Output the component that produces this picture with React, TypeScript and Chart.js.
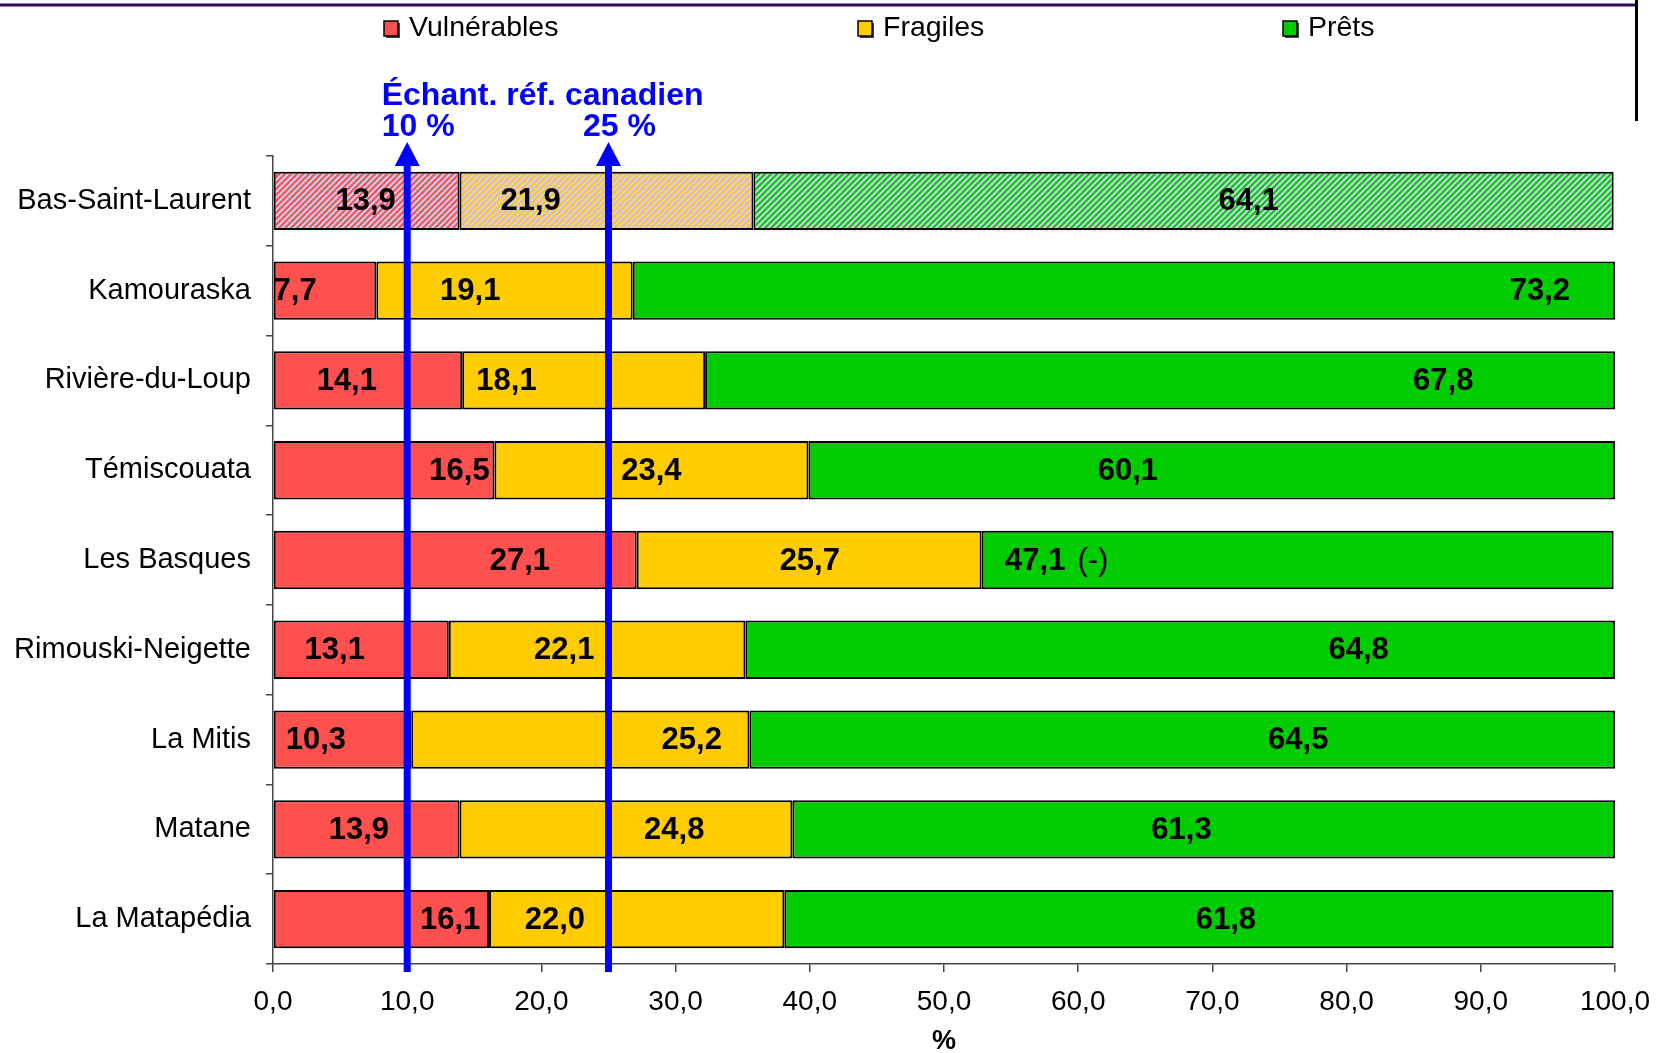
import React, { useEffect, useRef } from 'react';
import { Chart, registerables } from 'chart.js';

Chart.register(...registerables);

// ---------- data ----------
const categories = [
  'Bas-Saint-Laurent',
  'Kamouraska',
  'Rivière-du-Loup',
  'Témiscouata',
  'Les Basques',
  'Rimouski-Neigette',
  'La Mitis',
  'Matane',
  'La Matapédia',
];
const seriesNames = ['Vulnérables', 'Fragiles', 'Prêts'];
const vulnerables = [13.9, 7.7, 14.1, 16.5, 27.1, 13.1, 10.3, 13.9, 16.1];
const fragiles = [21.9, 19.1, 18.1, 23.4, 25.7, 22.1, 25.2, 24.8, 22.0];
const prets = [64.1, 73.2, 67.8, 60.1, 47.1, 64.8, 64.5, 61.3, 61.8];
const pretsNotes = ['', '', '', '', '(-)', '', '', '', ''];
const xTickLabels = ['0,0', '10,0', '20,0', '30,0', '40,0', '50,0', '60,0', '70,0', '80,0', '90,0', '100,0'];
const xAxisTitle = '%';
const referenceTitle = 'Échant. réf. canadien';
const referenceValues = [10, 25];
const referenceLabels = ['10 %', '25 %'];
// where each value label sits along the axis (in % units), as placed in the original
const vulnLabelAt = [6.9, 1.65, 5.5, 13.9, 18.4, 4.6, 3.2, 6.4, 13.2];
const fragLabelAt = [19.2, 14.7, 17.4, 28.2, 40.0, 21.7, 31.2, 29.9, 21.0];
const pretLabelAt = [72.7, 94.4, 87.2, 63.7, 56.8, 80.9, 76.4, 67.7, 71.0];

// ---------- styles ----------
const RED = '#FF5050';
const YELLOW = '#FFCC00';
const GREEN = '#00CC00';
const BLUE = '#0000FF';
const FONT = '"Liberation Sans", Arial, sans-serif';

function fmt(v: number) {
  return v.toFixed(1).replace('.', ',');
}

function makeHatch(color: string): CanvasPattern | string {
  const c = document.createElement('canvas');
  c.width = 6;
  c.height = 6;
  const g = c.getContext('2d');
  if (!g) return color;
  g.fillStyle = color;
  g.fillRect(0, 0, 6, 6);
  g.strokeStyle = '#CFCFF6';
  g.lineWidth = 2;
  for (const k of [0, 6, 12]) {
    g.beginPath();
    g.moveTo(-2, k + 2);
    g.lineTo(k + 2, -2);
    g.stroke();
  }
  const p = g.createPattern(c, 'repeat');
  return p || color;
}

export default function App() {
  const ref = useRef<HTMLCanvasElement | null>(null);

  useEffect(() => {
    const canvas = ref.current;
    if (!canvas) return;
    const colors = [RED, YELLOW, GREEN];
    const values = [vulnerables, fragiles, prets];
    const labelAt = [vulnLabelAt, fragLabelAt, pretLabelAt];

    const datasets = values.map((vals, i) => ({
      label: seriesNames[i],
      data: vals,
      backgroundColor: vals.map((_, j) => (j === 0 ? makeHatch(colors[i]) : colors[i])),
      borderColor: '#000000',
      borderWidth: 2,
      borderSkipped: false,
      barPercentage: 0.65,
      categoryPercentage: 1,
    }));

    const labelsPlugin = {
      id: 'valueLabels',
      afterDatasetsDraw(chart: any) {
        const ctx = chart.ctx;
        const xs = chart.scales.x;
        ctx.save();
        ctx.fillStyle = '#000';
        ctx.textBaseline = 'middle';
        values.forEach((vals, i) => {
          const meta = chart.getDatasetMeta(i);
          vals.forEach((v, j) => {
            const el = meta.data[j];
            const x = xs.getPixelForValue(labelAt[i][j]);
            const y = el.y + 1;
            ctx.font = `bold 31px ${FONT}`;
            ctx.textAlign = 'center';
            const text = fmt(v);
            ctx.fillText(text, x, y);
            if (i === 2 && pretsNotes[j]) {
              const w = ctx.measureText(text).width;
              ctx.font = `31px ${FONT}`;
              ctx.textAlign = 'left';
              ctx.fillText(pretsNotes[j], x + w / 2 + 12, y);
            }
          });
        });
        ctx.restore();
      },
    };

    const decorPlugin = {
      id: 'decor',
      afterDraw(chart: any) {
        const ctx = chart.ctx;
        const xs = chart.scales.x;
        const area = chart.chartArea;
        ctx.save();

        // frame lines at top
        ctx.strokeStyle = '#2A0C55';
        ctx.lineWidth = 3;
        ctx.beginPath();
        ctx.moveTo(0, 5);
        ctx.lineTo(1637, 5);
        ctx.stroke();
        ctx.strokeStyle = '#000';
        ctx.lineWidth = 3;
        ctx.beginPath();
        ctx.moveTo(1636.5, 0);
        ctx.lineTo(1636.5, 121);
        ctx.stroke();

        // legend
        const legendX = [384, 858, 1283];
        const colors = [RED, YELLOW, GREEN];
        ctx.font = `28.5px ${FONT}`;
        ctx.textBaseline = 'middle';
        ctx.textAlign = 'left';
        seriesNames.forEach((name, i) => {
          const x = legendX[i];
          ctx.fillStyle = '#404040';
          ctx.fillRect(x + 2, 23, 14, 15);
          ctx.fillStyle = colors[i];
          ctx.fillRect(x, 21, 14, 15);
          ctx.strokeStyle = '#000';
          ctx.lineWidth = 1.5;
          ctx.strokeRect(x, 21, 14, 15);
          ctx.fillStyle = '#000';
          ctx.fillText(name, x + 25, 28);
        });

        // reference arrows
        ctx.fillStyle = BLUE;
        ctx.strokeStyle = BLUE;
        referenceValues.forEach((v) => {
          const x = xs.getPixelForValue(v);
          ctx.lineWidth = 7;
          ctx.beginPath();
          ctx.moveTo(x, 160);
          ctx.lineTo(x, area.bottom + 8);
          ctx.stroke();
          ctx.beginPath();
          ctx.moveTo(x, 142);
          ctx.lineTo(x + 12.5, 166);
          ctx.lineTo(x - 12.5, 166);
          ctx.closePath();
          ctx.fill();
        });

        // reference text
        ctx.font = `bold 32px ${FONT}`;
        ctx.textBaseline = 'middle';
        ctx.textAlign = 'center';
        referenceLabels.forEach((t, i) => {
          const x = xs.getPixelForValue(referenceValues[i]) + 11;
          ctx.fillText(t, x, 127);
        });
        ctx.textAlign = 'left';
        const firstW = ctx.measureText(referenceLabels[0]).width;
        ctx.fillText(referenceTitle, xs.getPixelForValue(referenceValues[0]) + 11 - firstW / 2, 96);

        ctx.restore();
      },
    };

    const chart = new Chart(canvas, {
      type: 'bar',
      data: { labels: categories, datasets: datasets as any },
      options: {
        indexAxis: 'y',
        responsive: false,
        animation: false,
        devicePixelRatio: 1,
        layout: { padding: { top: 156, right: 42, left: 0, bottom: 0 } },
        plugins: {
          legend: { display: false },
          tooltip: { enabled: false },
          title: { display: false },
        },
        scales: {
          x: {
            stacked: true,
            min: 0,
            max: 100,
            ticks: {
              stepSize: 10,
              color: '#000',
              padding: 13,
              font: { family: FONT, size: 28 },
              callback: (_v: any, i: number) => xTickLabels[i],
            },
            grid: {
              drawOnChartArea: false,
              drawTicks: true,
              tickLength: 8,
              color: '#444',
              lineWidth: 1.5,
            },
            border: { display: true, color: '#444', width: 1.5 },
            title: {
              display: true,
              text: xAxisTitle,
              color: '#000',
              font: { family: FONT, size: 27, weight: 'bold', lineHeight: 1 },
              padding: { top: 0, bottom: -2 },
            },
            afterFit: (s: any) => {
              s.height = 89;
              s.paddingLeft = 0;
              s.paddingRight = 0;
            },
          },
          y: {
            stacked: true,
            ticks: {
              color: '#000',
              padding: 15,
              font: { family: FONT, size: 29 },
            },
            grid: {
              drawOnChartArea: false,
              drawTicks: true,
              tickLength: 7,
              offset: true,
              color: '#444',
              lineWidth: 1.5,
            },
            border: { display: true, color: '#444', width: 1.5 },
            afterFit: (s: any) => {
              s.width = 273;
              s.paddingTop = 0;
              s.paddingBottom = 0;
            },
          },
        },
      } as any,
      plugins: [labelsPlugin, decorPlugin],
    });

    return () => chart.destroy();
  }, []);

  return (
    <div style={{ position: 'absolute', left: 0, top: 0, width: 1657, height: 1053, background: '#fff' }}>
      <canvas ref={ref} width={1657} height={1053} style={{ display: 'block' }} />
    </div>
  );
}
